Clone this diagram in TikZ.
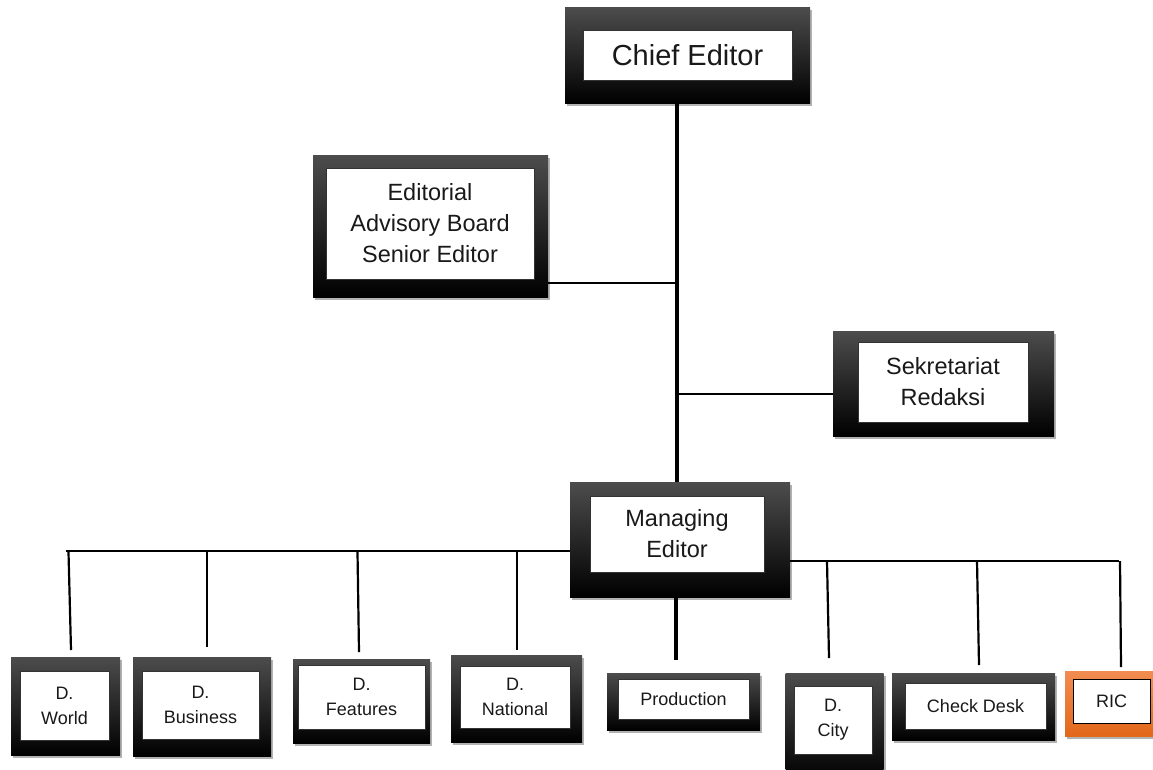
\documentclass[tikz,border=0pt]{standalone}
\usepackage{fontspec}
\setmainfont{Liberation Sans}
\usetikzlibrary{shadows}
\definecolor{ortop}{RGB}{242,140,82}
\definecolor{ormid}{RGB}{236,118,44}
\definecolor{orbot}{RGB}{226,104,26}
\tikzset{
  frame/.style={rectangle, inner sep=0pt, top color=black!70, middle color=black, bottom color=black,
    drop shadow={shadow xshift=2pt, shadow yshift=-3pt, opacity=0.3, fill=black}},
  orframe/.style={rectangle, inner sep=0pt, top color=ortop, middle color=ormid, bottom color=orbot,
    drop shadow={shadow xshift=2pt, shadow yshift=-3pt, opacity=0.3, fill=black}},
  innerbox/.style={rectangle, fill=white, draw=black!80, line width=0.7pt, inner sep=0pt, align=center, text=black!90},
  bigtxt/.style={font=\fontsize{29}{34}\selectfont},
  midtxt/.style={font=\fontsize{23.5}{31}\selectfont},
  smalltxt/.style={font=\fontsize{18}{25}\selectfont},
  spine/.style={line width=4pt, black},
  bar/.style={line width=2.2pt, black},
}
\begin{document}
\begin{tikzpicture}[x=1pt, y=-1pt]
\useasboundingbox (0,0) rectangle (1153,769);
\clip (0,0) rectangle (1153,769);

% coordinates for connectors
\coordinate (sp) at (677,0);
\coordinate (e1) at (677,283);
\coordinate (s1) at (677,394);
\coordinate (barL) at (66,551);
\coordinate (barR) at (1119,561);
\coordinate (dWt) at (68.5,552);
\coordinate (dWb) at (71,650);
\coordinate (dBt) at (207,552);
\coordinate (dBb) at (207,647);
\coordinate (dFt) at (357.5,552);
\coordinate (dFb) at (359,652);
\coordinate (dNt) at (517,552);
\coordinate (dNb) at (517,650);
\coordinate (dPb) at (676,660);
\coordinate (dCt) at (827,561);
\coordinate (dCb) at (829,658);
\coordinate (dKt) at (977,561);
\coordinate (dKb) at (979,665);
\coordinate (dRt) at (1120,561);
\coordinate (dRb) at (1121,667);

% frames
\node[frame, minimum width=245pt, minimum height=96pt] (chiefF) at (687.5,55) {};
\node[frame, minimum width=235pt, minimum height=142pt] (edF) at (430.5,226) {};
\node[frame, minimum width=221pt, minimum height=105pt] (sekF) at (943.5,383.5) {};
\node[frame, minimum width=220pt, minimum height=115pt] (mgrF) at (680,539.5) {};
\node[frame, minimum width=109pt, minimum height=98pt] (worldF) at (65.5,706) {};
\node[frame, minimum width=138pt, minimum height=99pt] (busF) at (202,706.5) {};
\node[frame, minimum width=137pt, minimum height=84pt] (featF) at (361.5,701) {};
\node[frame, minimum width=131pt, minimum height=87pt] (natF) at (516.5,698.5) {};
\node[frame, minimum width=153pt, minimum height=57pt] (prodF) at (683.5,701.5) {};
\node[frame, minimum width=98pt, minimum height=107pt] (cityF) at (834.5,726.5) {};
\node[frame, minimum width=163pt, minimum height=67pt] (chkF) at (973.5,706.5) {};
\node[orframe, minimum width=92pt, minimum height=65pt] (ricF) at (1111,703.5) {};

% connectors
\draw[spine] (chiefF.south -| sp) -- (mgrF.north -| sp);
\draw[bar] (edF.east |- e1) -- (e1);
\draw[bar] (s1) -- (sekF.west |- s1);
\draw[bar] (barL) -- (mgrF.west |- barL);
\draw[bar] (mgrF.east |- barR) -- (barR);
\draw[bar] (dWt) -- (dWb);
\draw[bar] (dBt) -- (dBb);
\draw[bar] (dFt) -- (dFb);
\draw[bar] (dNt) -- (dNb);
\draw[spine] (mgrF.south -| dPb) -- (dPb);
\draw[bar] (dCt) -- (dCb);
\draw[bar] (dKt) -- (dKb);
\draw[bar] (dRt) -- (dRb);

% inner boxes with text
\node[innerbox, bigtxt, minimum width=209pt, minimum height=50pt] (chief) at (687.5,55) {Chief Editor};
\node[innerbox, midtxt, minimum width=208pt, minimum height=111pt] (ed) at (430,223.5) {Editorial\\Advisory Board\\Senior Editor};
\node[innerbox, midtxt, minimum width=170pt, minimum height=80pt] (sek) at (943,382) {Sekretariat\\Redaksi};
\node[innerbox, midtxt, minimum width=174pt, minimum height=76pt] (mgr) at (677,534) {Managing\\Editor};
\node[innerbox, smalltxt, minimum width=89pt, minimum height=69pt] (world) at (64.5,705.5) {D.\\World};
\node[innerbox, smalltxt, minimum width=117pt, minimum height=68pt] (bus) at (200.5,705) {D.\\Business};
\node[innerbox, smalltxt, minimum width=127pt, minimum height=64pt] (feat) at (361.5,697) {D.\\Features};
\node[innerbox, smalltxt, minimum width=110pt, minimum height=62pt] (nat) at (515,697) {D.\\National};
\node[innerbox, smalltxt, minimum width=131pt, minimum height=40pt] (prod) at (683.5,699) {Production};
\node[innerbox, smalltxt, minimum width=78pt, minimum height=68pt] (city) at (833,720) {D.\\City};
\node[innerbox, smalltxt, minimum width=141pt, minimum height=46pt] (chk) at (975.5,706) {Check Desk};
\node[innerbox, smalltxt, draw=black, minimum width=77pt, minimum height=44pt] (ric) at (1111.5,701) {RIC};
\end{tikzpicture}
\end{document}
